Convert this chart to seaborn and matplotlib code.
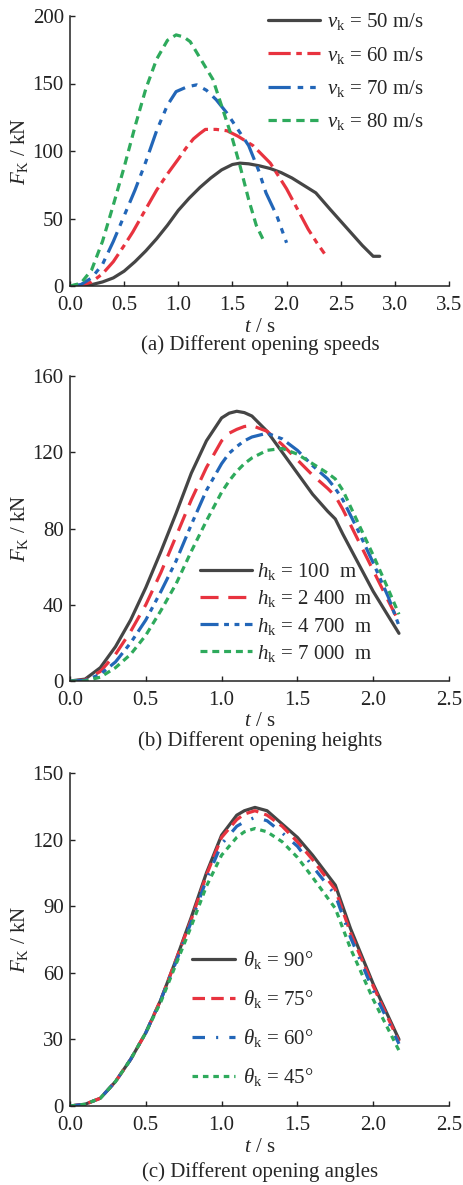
import matplotlib
matplotlib.use("Agg")
import matplotlib.pyplot as plt
import seaborn as sns
import pandas as pd

# ---- data ----
# (a) opening speeds
t_v50 = [0, 0.1, 0.2, 0.3, 0.4, 0.5, 0.6, 0.7, 0.8, 0.9, 1.0, 1.1, 1.2, 1.3, 1.4, 1.5, 1.57, 1.65,
         1.75, 1.85, 1.95, 2.05, 2.15, 2.27, 2.4, 2.5, 2.6, 2.7, 2.8, 2.86]
F_v50 = [0, 0, 1, 3, 6, 11, 18, 26, 35, 45, 56, 65, 73, 80, 86, 90, 91, 90.5,
         89, 87, 84, 80, 75, 69, 57, 48, 39, 30, 22, 22]
t_v60 = [0, 0.1, 0.2, 0.3, 0.4, 0.5, 0.58, 0.7, 0.8, 0.9, 1.0, 1.07, 1.14, 1.2, 1.25, 1.35, 1.45,
         1.55, 1.69, 1.85, 2.0, 2.1, 2.2, 2.28, 2.35]
F_v60 = [0, 0.5, 3, 9, 18, 30, 40, 57, 71, 83, 94, 102, 109, 113, 116, 116, 115,
         111, 104, 91, 72, 57, 42, 32, 24]
t_v70 = [0, 0.1, 0.2, 0.3, 0.4, 0.5, 0.6, 0.7, 0.8, 0.9, 0.98, 1.08, 1.17, 1.26, 1.35, 1.45, 1.55,
         1.65, 1.74, 1.81, 1.91, 2.0]
F_v70 = [0, 1, 6, 16, 33, 52, 71, 92, 115, 134, 144, 147.5, 149, 145, 138, 128, 116,
         104, 86, 69, 52, 32]
t_v80 = [0, 0.1, 0.2, 0.3, 0.4, 0.5, 0.6, 0.7, 0.8, 0.9, 0.98, 1.05, 1.11, 1.2, 1.32, 1.41, 1.5,
         1.57, 1.65, 1.72, 1.78]
F_v80 = [0, 2, 12, 33, 60, 88, 118, 146, 168, 182, 186, 184.5, 181, 169, 153, 131, 109,
         89, 64, 45, 35]
labels_a = [r"$v_{\mathrm{k}}$ = 50 m/s", r"$v_{\mathrm{k}}$ = 60 m/s",
            r"$v_{\mathrm{k}}$ = 70 m/s", r"$v_{\mathrm{k}}$ = 80 m/s"]

# (b) opening heights
t_b = [0, 0.1, 0.2, 0.3, 0.4, 0.5, 0.6, 0.7, 0.8, 0.9, 1.0, 1.05, 1.1, 1.15, 1.2, 1.3, 1.4, 1.5,
       1.6, 1.7, 1.75, 1.8, 1.9, 2.0, 2.1, 2.17]
F_h100 = [0, 1, 7, 18, 32, 49, 68, 88, 109, 126, 138, 140.5, 141.5, 140.8, 139, 131, 120, 109,
          98, 89, 85, 77, 62, 47, 34, 25]
F_h2400 = [0, 0.5, 5, 14, 26, 40, 57, 76, 95, 112, 126, 130, 132, 133.5, 134, 131, 124, 116,
           108, 101, 97, 90, 74, 58, 42, 31]
F_h4700 = [0, 0.3, 3.5, 10, 20, 32, 47, 63, 82, 100, 114, 119.5, 123, 126, 128, 130, 127, 121,
           113, 106, 101, 95, 79, 62, 44, 29]
F_h7000 = [0, 0, 2, 7, 14, 24, 37, 51, 68, 84, 99, 105, 110, 114, 117, 121, 122, 119,
           114, 109, 106, 100, 83, 66, 48, 35]
labels_b = [r"$h_{\mathrm{k}}$ = 100  m", r"$h_{\mathrm{k}}$ = 2 400  m",
            r"$h_{\mathrm{k}}$ = 4 700  m", r"$h_{\mathrm{k}}$ = 7 000  m"]

# (c) opening angles
t_c = [0, 0.1, 0.2, 0.3, 0.4, 0.5, 0.6, 0.7, 0.8, 0.9, 1.0, 1.1, 1.15, 1.22, 1.3, 1.4, 1.5, 1.6,
       1.75, 1.85, 2.0, 2.17]
F_a90 = [0, 0.8, 3.5, 11, 21, 33, 48, 66, 85, 105, 122, 131, 133, 134.5, 133, 127, 121, 113,
         99.5, 80, 55, 30]
F_a75 = [0, 0.8, 3.5, 11, 21, 33, 48, 66, 84, 104, 121, 129, 131.5, 133, 131, 126, 119, 111,
         97.5, 78, 54, 29]
F_a60 = [0, 0.8, 3.5, 11, 21, 33, 48, 65, 83, 102, 118, 126, 128, 130, 128.5, 123, 117, 108,
         95, 76, 52, 28]
F_a45 = [0, 0.8, 3.5, 11, 21, 33, 47, 64, 81, 99, 113, 121, 123.5, 125, 123.5, 119, 112, 103,
         89, 71, 48, 25]
labels_c = [r"$\theta_{\mathrm{k}}$ = 90°", r"$\theta_{\mathrm{k}}$ = 75°",
            r"$\theta_{\mathrm{k}}$ = 60°", r"$\theta_{\mathrm{k}}$ = 45°"]

colors = ["#454545", "#e8333f", "#2266b8", "#2eaa5c"]

sns.set_style("ticks")
plt.rcParams["font.family"] = ["Liberation Serif", "DejaVu Serif"]
plt.rcParams["mathtext.fontset"] = "custom"
plt.rcParams["mathtext.rm"] = "Liberation Serif"
plt.rcParams["mathtext.it"] = "Liberation Serif:italic"
plt.rcParams["lines.scale_dashes"] = False

W, H = 463, 1185
fig = plt.figure(figsize=(W / 100, H / 100), dpi=100)


def px_axes(left, top, right, bottom):
    return fig.add_axes([left / W, 1 - bottom / H, (right - left) / W, (bottom - top) / H])


def long_df(series, labels):
    frames = []
    for (t, F), lab in zip(series, labels):
        frames.append(pd.DataFrame({"t": t, "F": F, "case": lab}))
    return pd.concat(frames, ignore_index=True)


def draw(ax, top, bottom, series, labels, dashes, ymax, yticks, xmax,
         caption, cap_y, xlab_y, leg_xy, leg_kw):
    df = long_df(series, labels)
    sns.lineplot(data=df, x="t", y="F", hue="case", style="case", hue_order=labels,
                 style_order=labels, palette=dict(zip(labels, colors)),
                 dashes=dict(zip(labels, dashes)), sort=False, estimator=None,
                 linewidth=2.3, legend=False, ax=ax)
    ax.set_xlim(0, xmax)
    ax.set_ylim(0, ymax)
    ax.set_xticks([i * 0.5 for i in range(int(xmax / 0.5) + 1)])
    ax.set_yticks(yticks)
    ax.xaxis.set_major_formatter(matplotlib.ticker.FormatStrFormatter("%.1f"))
    ax.tick_params(direction="in", length=3.6, width=1, labelsize=15, colors="#222222")
    ax.tick_params(axis="x", pad=7.5)
    ax.tick_params(axis="y", pad=4.5)
    for s in ["top", "right"]:
        ax.spines[s].set_visible(False)
    for s in ["left", "bottom"]:
        ax.spines[s].set_linewidth(1.1)
        ax.spines[s].set_color("#222222")
    ax.set_xlabel(r"$t$ / s", fontsize=15, va="center")
    ax.xaxis.set_label_coords(0.5, -(xlab_y - bottom) / (bottom - top))
    ax.set_ylabel(r"$F_{\mathrm{K}}$ / kN", fontsize=15, labelpad=2)
    ax.legend(ax.lines[:4], labels, loc="upper left",
              bbox_to_anchor=(leg_xy[0] / W, 1 - leg_xy[1] / H),
              bbox_transform=fig.transFigure, frameon=False, borderpad=0,
              borderaxespad=0, fontsize=15, **leg_kw)
    fig.text(260 / W, 1 - cap_y / H, caption, ha="center", va="center", fontsize=15)


ax_a = px_axes(70, 16, 449, 286)
draw(ax_a, 16, 286, [(t_v50, F_v50), (t_v60, F_v60), (t_v70, F_v70), (t_v80, F_v80)], labels_a,
     ["", (16, 4, 4, 4), (16, 5, 4, 5, 4, 5), (6, 4)],
     200, [0, 50, 100, 150, 200], 3.5, "(a) Different opening speeds", 345, 327,
     (268, 11), dict(handlelength=2.5, handletextpad=0.35, labelspacing=0.6))

ax_b = px_axes(70, 376, 449, 681)
draw(ax_b, 376, 681, [(t_b, F_h100), (t_b, F_h2400), (t_b, F_h4700), (t_b, F_h7000)], labels_b,
     ["", (13, 7), (13, 4, 3.5, 4, 3.5, 4), (5, 3.5)],
     160, [0, 40, 80, 120, 160], 2.5, "(b) Different opening heights", 741, 722,
     (200, 561), dict(handlelength=2.5, handletextpad=0.25, labelspacing=0.3))

ax_c = px_axes(70, 773, 449, 1106)
draw(ax_c, 773, 1106, [(t_c, F_a90), (t_c, F_a75), (t_c, F_a60), (t_c, F_a45)], labels_c,
     ["", (9, 4.5), (9, 8, 1.5, 8), (4, 3.5)],
     150, [0, 30, 60, 90, 120, 150], 2.5, "(c) Different opening angles", 1172, 1148,
     (192, 949), dict(handlelength=2.05, handletextpad=0.4, labelspacing=0.82))

fig.savefig("out.png", dpi=100)
